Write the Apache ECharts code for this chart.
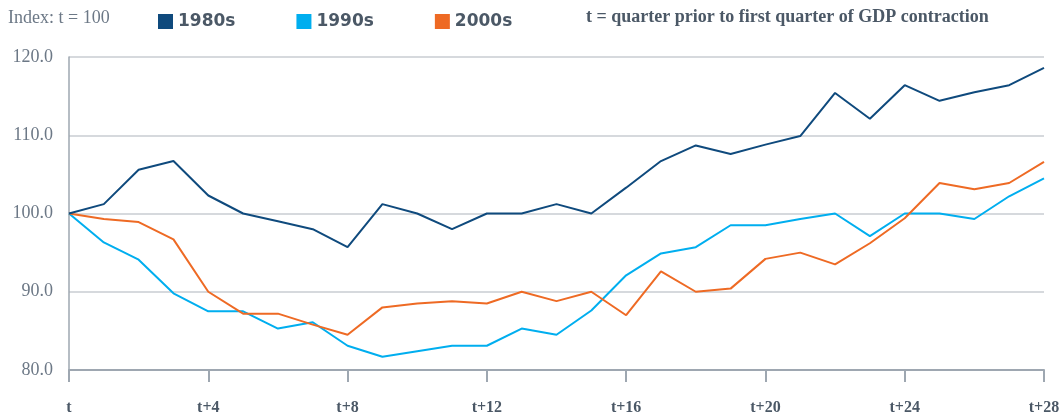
<!DOCTYPE html>
<html>
<head>
<meta charset="utf-8">
<script src="https://cdn.jsdelivr.net/npm/echarts@6/dist/echarts.min.js"></script>
<style>
  html, body { margin: 0; padding: 0; background: #fff; }
  #main { width: 1059px; height: 414px; }
</style>
</head>
<body>
<div id="main"></div>
<script>
// quarters t .. t+28
var quarters = [];
for (var q = 0; q <= 28; q++) quarters.push(q === 0 ? 't' : 't+' + q);

var s1980 = [100, 101.2, 105.6, 106.7, 102.3, 100, 99.0, 98.0, 95.7, 101.2, 100, 98.0, 100, 100, 101.2, 100,
  103.3, 106.7, 108.7, 107.6, 108.8, 109.9, 115.4, 112.1, 116.4, 114.4, 115.5, 116.4, 118.6];
var s1990 = [100, 96.3, 94.1, 89.8, 87.5, 87.5, 85.3, 86.1, 83.1, 81.7, 82.4, 83.1, 83.1, 85.3, 84.5, 87.6,
  92.1, 94.9, 95.7, 98.5, 98.5, 99.3, 100, 97.1, 100, 100, 99.3, 102.2, 104.5];
var s2000 = [100, 99.3, 98.9, 96.7, 90.0, 87.2, 87.2, 85.8, 84.5, 88.0, 88.5, 88.8, 88.5, 90.0, 88.8, 90.0,
  87.0, 92.6, 90.0, 90.4, 94.2, 95.0, 93.5, 96.2, 99.4, 103.9, 103.1, 103.9, 106.6];

var seriesNames = ['1980s', '1990s', '2000s'];
var colors = ['#0f4a7d', '#00aeef', '#ee6a24'];

var chart = echarts.init(document.getElementById('main'));

var textDark = '#4b5866';
var axisGray = '#9ea7b1';

chart.setOption({
  animation: false,
  color: colors,
  graphic: [
    {
      type: 'text', left: 8, top: 9,
      style: { text: 'Index: t = 100', fontFamily: 'Liberation Serif', fontSize: 18, fill: '#6c7886' }
    },
    {
      type: 'text', left: 586, top: 8,
      style: { text: 't = quarter prior to first quarter of GDP contraction', fontFamily: 'Liberation Serif',
        fontWeight: 'bold', fontSize: 18, fill: textDark }
    }
  ],
  legend: {
    data: seriesNames,
    left: 153, top: 8,
    icon: 'rect',
    itemWidth: 15, itemHeight: 15,
    itemGap: 61,
    textStyle: { fontFamily: 'DejaVu Sans', fontWeight: 'bold', fontSize: 17, color: textDark }
  },
  grid: { left: 69, right: 15, top: 57, bottom: 44, outerBoundsMode: 'none' },
  xAxis: {
    type: 'category',
    data: quarters,
    boundaryGap: false,
    axisLine: { lineStyle: { color: axisGray, width: 2 } },
    axisTick: { interval: 3, length: 12, lineStyle: { color: axisGray, width: 2 } },
    axisLabel: { interval: 3, margin: 30, fontFamily: 'Liberation Serif', fontWeight: 'bold', fontSize: 16, color: textDark }
  },
  yAxis: {
    type: 'value',
    min: 80, max: 120, interval: 10,
    axisLine: { show: true, lineStyle: { color: axisGray, width: 1.5 } },
    axisTick: { show: false },
    splitLine: { lineStyle: { color: '#c9cdd2', width: 1.5 } },
    axisLabel: {
      margin: 16, fontFamily: 'Liberation Serif', fontSize: 18, color: '#6c7886',
      formatter: function (v) { return v.toFixed(1); }
    }
  },
  series: [
    { name: seriesNames[0], type: 'line', data: s1980, showSymbol: false, lineStyle: { width: 2 }, z: 3 },
    { name: seriesNames[1], type: 'line', data: s1990, showSymbol: false, lineStyle: { width: 2 }, z: 2 },
    { name: seriesNames[2], type: 'line', data: s2000, showSymbol: false, lineStyle: { width: 2 }, z: 2 }
  ]
});
</script>
</body>
</html>
